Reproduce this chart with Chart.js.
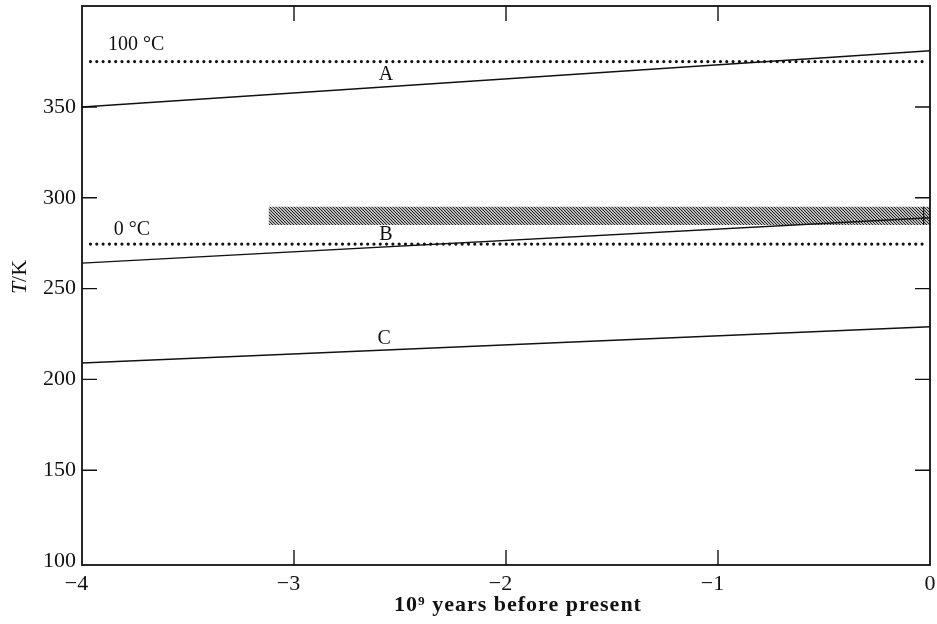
<!DOCTYPE html>
<html>
<head>
<meta charset="utf-8">
<script src="https://cdn.jsdelivr.net/npm/chart.js@4.4.0/dist/chart.umd.min.js"></script>
<style>
  html, body { margin: 0; padding: 0; background: #fff; }
  #wrap { width: 937px; height: 624px; position: relative; }
</style>
</head>
<body>
<div id="wrap"><canvas id="c" width="937" height="624"></canvas></div>
<script>
// ---- data ----
const xEnds   = [-4, 0];                 // ages (10^9 years before present)
const lineA   = [350, 381];              // curve A, T/K
const lineB   = [264, 289];              // curve B, T/K
const lineC   = [209, 229];              // curve C, T/K
const dotX    = [-3.96, -0.01];          // extent of dotted reference lines
const boilT   = [375, 375];              // 100 °C line
const freezeT = [274.5, 274.5];          // 0 °C line
const bandX   = [-3.12, 0];              // hatched band extent
const bandTop = [295, 295];
const bandBot = [285, 285];
const nowX    = [-0.03, -0.03];          // present-day range mark
const nowT    = [285, 295];
const xTicks  = [-4, -3, -2, -1, 0];
const yTicks  = [100, 150, 200, 250, 300, 350];
const notes = [
  { text: 'A',      x: -2.566, y: 367.6 },
  { text: 'B',      x: -2.566, y: 279.6 },
  { text: 'C',      x: -2.575, y: 222.6 },
  { text: '100 °C', x: -3.745, y: 384.0 },
  { text: '0 °C',   x: -3.764, y: 282.4 }
];

const SERIF = '"Liberation Serif", "DejaVu Serif", serif';
const pts = (xs, ys) => xs.map((x, i) => ({ x: x, y: ys[i] }));

function hatch(ctx) {
  const c = document.createElement('canvas');
  c.width = 3; c.height = 3;
  const g = c.getContext('2d');
  g.strokeStyle = '#1e1e1e';
  g.lineWidth = 1.15;
  g.beginPath();
  for (const o of [-3, 0, 3]) { g.moveTo(o - 1, -1); g.lineTo(o + 4, 4); }
  g.stroke();
  return ctx.createPattern(c, 'repeat');
}

const canvas = document.getElementById('c');
const ctx0 = canvas.getContext('2d');

const solid = (data) => ({ data: data, borderColor: '#111', borderWidth: 1.4, pointRadius: 0, fill: false, tension: 0 });
const dotted = (data) => ({ data: data, borderColor: '#111', borderWidth: 3.2, borderDash: [0, 6.3], borderCapStyle: 'round', pointRadius: 0, fill: false });

const frame = {
  id: 'frame',
  afterDraw(chart) {
    const { ctx, chartArea: a, scales: { x, y } } = chart;
    ctx.save();
    ctx.strokeStyle = '#111';
    ctx.lineWidth = 1.8;
    ctx.strokeRect(a.left, a.top, a.right - a.left, a.bottom - a.top);
    ctx.lineWidth = 1.4;
    const L = 15;
    ctx.beginPath();
    for (const v of xTicks) {
      if (v === xTicks[0] || v === xTicks[xTicks.length - 1]) continue;
      const px = x.getPixelForValue(v);
      ctx.moveTo(px, a.bottom); ctx.lineTo(px, a.bottom - L);
      ctx.moveTo(px, a.top); ctx.lineTo(px, a.top + L);
    }
    for (const v of yTicks) {
      const py = y.getPixelForValue(v);
      if (Math.abs(py - a.bottom) < 6) continue;
      ctx.moveTo(a.left, py); ctx.lineTo(a.left + L, py);
      ctx.moveTo(a.right, py); ctx.lineTo(a.right - L, py);
    }
    ctx.stroke();

    // annotations
    ctx.fillStyle = '#111';
    ctx.font = '20px ' + SERIF;
    ctx.textAlign = 'center';
    ctx.textBaseline = 'middle';
    for (const n of notes) {
      ctx.fillText(n.text, x.getPixelForValue(n.x), y.getPixelForValue(n.y));
    }

    // x title
    ctx.font = 'bold 22px ' + SERIF;
    try { ctx.letterSpacing = '1px'; } catch (e) {}
    ctx.fillText('10⁹ years before present', 518, 605);
    try { ctx.letterSpacing = '0px'; } catch (e) {}

    // y title: italic T, upright /K
    ctx.translate(20, 277);
    ctx.rotate(-Math.PI / 2);
    ctx.textAlign = 'left';
    ctx.font = 'italic 22px ' + SERIF;
    const wT = ctx.measureText('T').width;
    ctx.font = '22px ' + SERIF;
    const wK = ctx.measureText('/K').width;
    const start = -(wT + wK) / 2;
    ctx.font = 'italic 22px ' + SERIF;
    ctx.fillText('T', start, 0);
    ctx.font = '22px ' + SERIF;
    ctx.fillText('/K', start + wT, 0);
    ctx.restore();
  }
};

new Chart(canvas, {
  type: 'line',
  data: {
    datasets: [
      { data: pts(bandX, bandTop), borderWidth: 0, pointRadius: 0, backgroundColor: hatch(ctx0), fill: '+1' },
      { data: pts(bandX, bandBot), borderWidth: 0, pointRadius: 0, fill: false },
      dotted(pts(dotX, boilT)),
      dotted(pts(dotX, freezeT)),
      solid(pts(xEnds, lineA)),
      solid(pts(xEnds, lineB)),
      solid(pts(xEnds, lineC)),
      { data: pts(nowX, nowT), borderColor: '#111', borderWidth: 1.2, pointRadius: 0, fill: false }
    ]
  },
  options: {
    responsive: false,
    animation: false,
    layout: { padding: { top: 6, right: 7, left: 0, bottom: 0 } },
    plugins: { legend: { display: false }, tooltip: { enabled: false } },
    scales: {
      x: {
        type: 'linear', min: -4, max: 0,
        grid: { display: false, drawTicks: false }, border: { display: false },
        afterBuildTicks: s => { s.ticks = xTicks.map(v => ({ value: v })); },
        afterFit: s => { s.height = 59; s.paddingLeft = 0; s.paddingRight = 0; },
        ticks: {
          padding: 6, color: '#111', maxRotation: 0, autoSkip: false,
          font: { family: SERIF, size: 22 },
          callback: v => v < 0 ? '−' + Math.abs(v) + '\u2002' : String(v)
        }
      },
      y: {
        type: 'linear', min: 97.8, max: 405.6,
        grid: { display: false, drawTicks: false }, border: { display: false },
        afterBuildTicks: s => { s.ticks = yTicks.map(v => ({ value: v })); },
        afterFit: s => { s.width = 82; s.paddingTop = 0; s.paddingBottom = 0; },
        ticks: {
          padding: 6, color: '#111', autoSkip: false,
          font: { family: SERIF, size: 22 },
          callback: v => String(v)
        }
      }
    }
  },
  plugins: [frame]
});
</script>
</body>
</html>
